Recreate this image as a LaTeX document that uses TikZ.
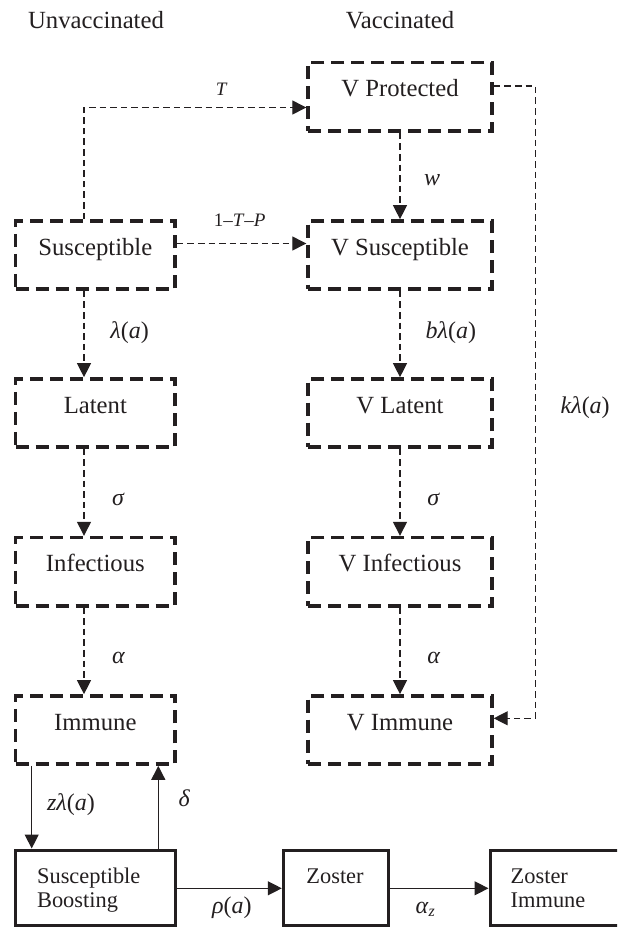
\documentclass[tikz,border=0pt]{standalone}
\usepackage{fontspec}
\setmainfont{Liberation Serif}
\usetikzlibrary{arrows.meta,calc}
\definecolor{ink}{RGB}{35,31,32}
\tikzset{
  dbox/.style={draw=ink, line width=1.7pt, dash pattern=on 6.5pt off 3.5pt, rectangle,
    minimum height=34.15pt, inner sep=0pt, text height=5pt, text depth=5pt,
    font=\fontsize{12.35}{14}\selectfont, text=ink},
  lbox/.style={dbox, minimum width=79.65pt},
  rbox/.style={dbox, minimum width=92pt},
  sbox/.style={draw=ink, line width=1.5pt, rectangle, minimum height=37.5pt, inner sep=0pt},
  btext/.style={anchor=base west, inner sep=0pt, font=\fontsize{11.2}{12.2}\selectfont, text=ink},
  tip/.style={-{Triangle[length=7pt,width=7pt]}},
  conn/.style={draw=ink, line width=0.65pt, dash pattern=on 3.3pt off 2pt, tip},
  sconn/.style={draw=ink, line width=0.65pt, tip},
  lab/.style={anchor=base west, inner sep=0pt, font=\fontsize{12}{14}\selectfont, text=ink},
  slab/.style={anchor=base, inner sep=0pt, font=\fontsize{9.5}{11}\selectfont, text=ink},
  ttl/.style={anchor=base, inner sep=0pt, font=\fontsize{12.35}{14}\selectfont, text=ink}
}
\begin{document}
\begin{tikzpicture}[x=0.5pt,y=-0.5pt]
\clip (0,0) rectangle (617,927);
\useasboundingbox (0,0) rectangle (617,927);

% titles
\node[ttl] (tu) at (96,28.3) {Unvaccinated};
\node[ttl] (tv) at (400,28.3) {Vaccinated};

% helper coordinates
\coordinate (lx) at (84,0);
\coordinate (ty) at (0,107.5);
\coordinate (py) at (0,243.5);
\coordinate (kx) at (535.3,0);
\coordinate (ky1) at (0,86);
\coordinate (ky2) at (0,718.3);
\coordinate (zx) at (31.7,0);
\coordinate (dx) at (158.3,0);
\coordinate (ay) at (0,888.3);

% dashed compartments
\node[rbox] (vprot) at (400,96.85) {V Protected};
\node[lbox] (sus) at (95.35,255) {Susceptible};
\node[rbox] (vsus) at (400,255) {V Susceptible};
\node[lbox] (lat) at (95.35,413) {Latent};
\node[rbox] (vlat) at (400,413) {V Latent};
\node[lbox] (inf) at (95.35,571.65) {Infectious};
\node[rbox] (vinf) at (400,571.65) {V Infectious};
\node[lbox] (imm) at (95.35,730) {Immune};
\node[rbox] (vimm) at (400,730) {V Immune};

% solid compartments
\node[sbox, minimum width=79.65pt] (sb) at (95.35,887.5) {};
\node[sbox, minimum width=52.7pt] (zos) at (336,887.5) {};
\node[sbox, minimum width=75pt] (zi) at (565,887.5) {};
\node[btext] (sbt) at (36.7,883.3) {\begin{tabular}[t]{@{}l@{}}Susceptible\\Boosting\end{tabular}};
\node[btext] (zost) at (306,883.3) {Zoster};
\node[btext] (zit) at (510.3,883.3) {\begin{tabular}[t]{@{}l@{}}Zoster\\Immune\end{tabular}};

% dashed connectors
\draw[conn] (sus.north -| lx) |- (vprot.west |- ty);
\draw[conn] (sus.east |- py) -- (vsus.west |- py);
\draw[conn] (vprot.south) -- (vsus.north);
\draw[conn] (sus.south -| lx) -- (lat.north -| lx);
\draw[conn] (lat.south -| lx) -- (inf.north -| lx);
\draw[conn] (inf.south -| lx) -- (imm.north -| lx);
\draw[conn] (vsus.south) -- (vlat.north);
\draw[conn] (vlat.south) -- (vinf.north);
\draw[conn] (vinf.south) -- (vimm.north);
\draw[conn] (vprot.east |- ky1) -- (kx |- ky1) -- (kx |- ky2) -- (vimm.east |- ky2);

% solid connectors
\draw[sconn] (imm.south -| zx) -- (sb.north -| zx);
\draw[sconn] (sb.north -| dx) -- (imm.south -| dx);
\draw[sconn] (sb.east |- ay) -- (zos.west |- ay);
\draw[sconn] (zos.east |- ay) -- (zi.west |- ay);

% labels
\node[slab] (lT) at (221.7,95) {\textit{T}};
\node[slab] (lTP) at (239.7,226.7) {1–\textit{T}–\textit{P}};
\node[lab] (lw) at (423.7,185) {\textit{w}};
\node[lab] (llam) at (110,338.3) {\textit{λ}(\textit{a})};
\node[lab] (lblam) at (425.3,338.3) {\textit{bλ}(\textit{a})};
\node[lab] (lsig) at (111.7,505) {\textit{σ}};
\node[lab] (lvsig) at (427,505) {\textit{σ}};
\node[lab] (lal) at (111.7,663.3) {\textit{α}};
\node[lab] (lval) at (427,663.3) {\textit{α}};
\node[lab] (lklam) at (560.3,413.3) {\textit{kλ}(\textit{a})};
\node[lab] (lzlam) at (46.7,810) {\textit{zλ}(\textit{a})};
\node[lab] (ldel) at (178.3,806.7) {\textit{δ}};
\node[lab] (lrho) at (211.7,913) {\textit{ρ}(\textit{a})};
\node[lab] (lalz) at (415.3,913) {\textit{α}\textsubscript{\textit{z}}};
\end{tikzpicture}
\end{document}
